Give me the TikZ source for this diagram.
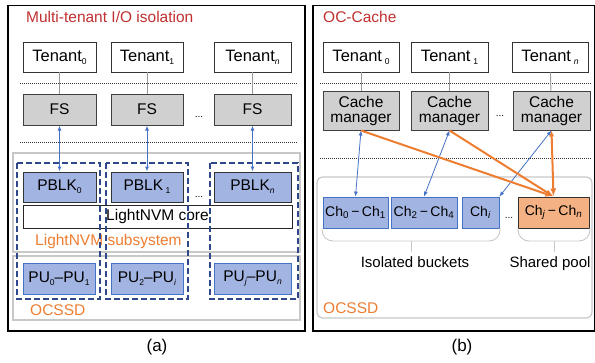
\documentclass[tikz,border=0pt]{standalone}
\usepackage{fontspec}
\setmainfont{Liberation Sans}
\usetikzlibrary{arrows.meta}
\definecolor{titlered}{RGB}{192,48,48}
\definecolor{lorange}{RGB}{237,125,49}
\definecolor{bfill}{RGB}{162,180,226}
\definecolor{bline}{RGB}{68,114,196}
\definecolor{dblue}{RGB}{47,72,140}
\definecolor{gfill}{RGB}{208,208,208}
\definecolor{lgray}{RGB}{200,200,200}
\definecolor{ofill}{RGB}{244,177,131}
\newcommand{\smsub}[1]{\raisebox{-3pt}{\fontsize{8.5}{9}\selectfont #1}}
\begin{document}
\begin{tikzpicture}[x=1pt,y=-1pt,
  wh/.style 2 args={minimum width=#1pt, minimum height=#2pt},
  box/.style={draw, inner sep=0pt, font=\fontsize{15.5}{17}\selectfont},
  tenant/.style={box, fill=white, draw=black!80, line width=0.8pt, font=\fontsize{16.5}{18}\selectfont},
  fsbox/.style={box, fill=gfill, draw=black!75, line width=1pt},
  cmbox/.style={fsbox, align=center, font=\fontsize{15.5}{15}\selectfont},
  pblk/.style={box, fill=bfill, draw=black!80, line width=1pt},
  corebox/.style={box, fill=white, draw=black!85, line width=1pt},
  pubox/.style={box, fill=bfill, draw=bline, line width=0.8pt},
  chbox/.style={box, fill=bfill, draw=bline, line width=0.8pt, font=\fontsize{14}{16}\selectfont},
  chshared/.style={chbox, fill=ofill, draw=black!80, line width=1pt},
  container/.style={draw=lgray, line width=1.2pt},
  dbox/.style={draw=dblue, dash pattern=on 6pt off 3pt, line width=1.3pt},
  sep/.style={draw=black!80, dash pattern=on 1pt off 1pt, line width=0.7pt},
  frame/.style={draw=black, line width=1.2pt},
  link/.style={draw=black!40, line width=0.9pt},
  barrow/.style={bline, line width=1pt, {Latex[length=5pt,width=4pt]}-{Latex[length=5pt,width=4pt]}},
  bthin/.style={bline, line width=0.8pt, {Latex[length=5pt,width=4pt]}-{Latex[length=5pt,width=4pt]}},
  oarrow/.style={lorange, line width=2pt, -{Latex[length=8pt,width=6pt]}},
  oarrow2/.style={lorange, line width=2pt, {Latex[length=6pt,width=5pt]}-{Latex[length=8pt,width=6pt]}},
  lbl/.style={inner sep=0pt, font=\fontsize{15.5}{18}\selectfont},
  dots/.style={inner sep=0pt, anchor=base, font=\fontsize{10}{12}\selectfont},
  bracket/.style={draw=lgray, line width=0.9pt}
]
\useasboundingbox (0,0) rectangle (595,362);

% ---------------- panel (a) ----------------
\draw[frame] (8,5.5) rectangle (305,331);
\draw[container] (13,153) rectangle (300,252);
\draw[container] (13,256) rectangle (300,320);
\draw[sep] (20,83) -- (298,83);
\draw[sep] (20,142) -- (298,142);

\node[lbl, anchor=base west, text=titlered] (titleA) at (26,22.5) {Multi-tenant I/O isolation};

\node[tenant, wh={73}{30}] (ta0) at (59.5,57) {Tenant\smsub{0}};
\node[tenant, wh={72}{30}] (ta1) at (147,57) {Tenant\smsub{1}};
\node[tenant, wh={77}{30}] (tan) at (252.5,57) {Tenant\smsub{\textit{n}}};

\node[fsbox, wh={73}{31}] (fs0) at (59.5,109.5) {FS};
\node[fsbox, wh={72}{31}] (fs1) at (147,109.5) {FS};
\node[fsbox, wh={77}{31}] (fsn) at (252.5,109.5) {FS};
\node[dots] (dfs) at (199,117) {...};

\node[pblk, wh={73}{30}] (pb0) at (59.5,187) {PBLK\smsub{0}};
\node[pblk, wh={72}{30}] (pb1) at (147,187) {PBLK\,\smsub{1}};
\node[pblk, wh={77}{30}] (pbn) at (252.5,187) {PBLK\smsub{\textit{n}}};
\node[dots] (dpb) at (199,197) {...};

\node[corebox, wh={269}{23}] (core) at (157.5,216.5) {LightNVM core};
\node[lbl, anchor=base west, text=lorange] (lsub) at (35,245) {LightNVM subsystem};

\node[pubox, wh={72}{31}] (pu0) at (59,278.5) {PU\smsub{0}–PU\smsub{1}};
\node[pubox, wh={72}{31}] (pu1) at (147,278.5) {PU\smsub{2}–PU\smsub{\textit{i}}};
\node[pubox, wh={77}{31}] (pun) at (252.5,278.5) {PU\smsub{\textit{j}}–PU\smsub{\textit{n}}};
\node[lbl, anchor=base west, text=lorange] (ocA) at (30,315) {OCSSD};

\draw[dbox] (17,163) rectangle (100,299);
\draw[dbox] (106,163) rectangle (188,299);
\draw[dbox] (210,163) rectangle (298,299);

\draw[link] (ta0) -- (fs0);
\draw[link] (ta1) -- (fs1);
\draw[link] (tan) -- (fsn);
\draw[barrow] (fs0) -- (pb0);
\draw[barrow] (fs1) -- (pb1);
\draw[barrow] (fsn) -- (pbn);

\node[inner sep=0pt, anchor=base, font=\fontsize{17}{20}\selectfont] (capA) at (157,351) {(a)};

% ---------------- panel (b) ----------------
\draw[frame] (313,5.5) rectangle (595,331);
\draw[container, rounded corners=6pt] (317,177) rectangle (592,318);
\draw[sep] (320,83) -- (592,83);
\draw[sep] (320,158) -- (592,158);

\node[lbl, anchor=base west, text=titlered] (titleB) at (323,22.5) {OC-Cache};

\node[tenant, wh={76}{30}] (tb0) at (361,57) {Tenant\,\smsub{0}};
\node[tenant, wh={77}{30}] (tb1) at (449.5,57) {Tenant\,\smsub{1}};
\node[tenant, wh={76}{30}] (tbn) at (550,57) {Tenant\,\smsub{\textit{n}}};

\node[cmbox, wh={76}{39}] (cm0) at (361,110.5) {Cache\\manager};
\node[cmbox, wh={77}{39}] (cm1) at (449.5,110.5) {Cache\\manager};
\node[cmbox, wh={77}{39}] (cmn) at (551.5,110.5) {Cache\\manager};
\node[dots] (dcm) at (500,116) {...};

\node[chbox, wh={65}{31}] (ch01) at (355.5,212.5) {Ch\textsubscript{0}\,−\,Ch\textsubscript{1}};
\node[chbox, wh={66}{31}] (ch24) at (424,212.5) {Ch\textsubscript{2}\,−\,Ch\textsubscript{4}};
\node[chbox, wh={37}{31}] (chi) at (480.5,212.5) {Ch\textsubscript{\textit{i}}};
\node[chshared, wh={71}{31}] (chjn) at (553.5,212.5) {Ch\textsubscript{\textit{j}}\,−\,Ch\textsubscript{\textit{n}}};
\node[dots] (dch) at (509,218) {...};

\draw[bracket, rounded corners=11pt] (322,228) -- (322,241) -- (500,241) -- (500,228);
\draw[bracket] (411,241) -- (411,252);
\draw[bracket, rounded corners=11pt] (518,228) -- (518,241) -- (590,241) -- (590,228);
\draw[bracket] (554,241) -- (554,252);

\node[inner sep=0pt, anchor=base, font=\fontsize{15}{17}\selectfont] (iso) at (415,267) {Isolated buckets};
\node[inner sep=0pt, anchor=base, font=\fontsize{15}{17}\selectfont] (shp) at (550,267) {Shared pool};
\node[lbl, anchor=base west, text=lorange] (ocB) at (323,313) {OCSSD};

\draw[link] (tb0) -- (cm0);
\draw[link] (tb1) -- (cm1);
\draw[link] (tbn) -- (cmn);

\draw[bthin] (cm0.south) -- (ch01.north);
\draw[bthin] (cm1.south) -- (ch24.north);
\draw[bthin] (cmn.south) -- (chi.north east);
\draw[oarrow] (cm0.south) -- (chjn.north);
\draw[oarrow] (cm1.south) -- (chjn.north);
\draw[oarrow2] (cmn.south) -- (chjn.north);

\node[inner sep=0pt, anchor=base, font=\fontsize{17}{20}\selectfont] (capB) at (462,351) {(b)};
\end{tikzpicture}
\end{document}
